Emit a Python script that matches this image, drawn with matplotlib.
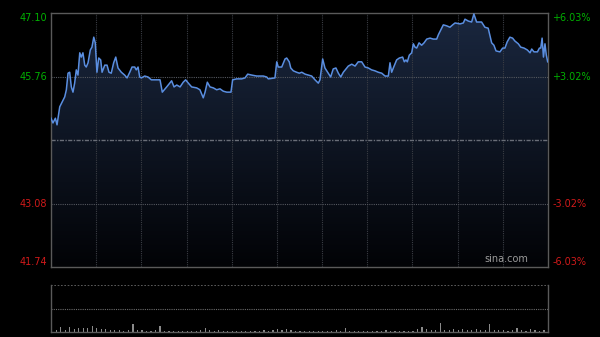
import numpy as np
import matplotlib.pyplot as plt
from matplotlib.colors import LinearSegmentedColormap

# intraday price (minutes since open, HK session 330 min)
minutes = [0, 1.3, 2.9, 4.0, 5.8, 9.1, 10.2, 11.3, 12.4, 13.5, 14.6, 15.7, 16.8, 17.9,
           19.1, 20.1, 21.2, 22.4, 23.4, 24.6, 26.1, 27.2, 28.4, 29.4, 30.5, 31.7, 33.0,
           33.9, 35.7, 37.2, 38.5, 40.0, 41.6, 43.0, 44.5, 46.7, 48.9, 50.5, 52.3, 53.8,
           55.6, 56.6, 57.8, 58.9, 60.0, 62.2, 64.4, 66.6, 72.4, 73.9, 76.8, 80.1, 81.7,
           83.5, 85.7, 87.8, 89.4, 91.2, 93.4, 96.7, 98.9, 101.1, 102.3, 103.8, 105.6,
           107.8, 110.0, 112.2, 114.4, 116.7, 119.5, 120.6, 123.3, 126.6, 128.8, 130.6,
           133.3, 136.6, 141.0, 143.2, 144.3, 148.7, 149.9, 150.9, 153.2, 155.4, 156.5,
           158.2, 159.2, 160.9, 163.1, 164.9, 166.5, 168.7, 170.9, 173.1, 175.3, 177.5,
           178.6, 180.4, 181.9, 184.1, 185.7, 187.4, 189.2, 190.8, 192.4, 194.1, 197.4,
           199.7, 201.9, 204.0, 206.3, 208.5, 210.7, 212.9, 215.1, 217.3, 219.6, 221.8,
           224.0, 225.1, 226.2, 227.3, 229.5, 231.3, 233.5, 234.6, 235.7, 236.6, 237.9,
           239.5, 240.6, 241.7, 242.8, 244.4, 246.1, 247.7, 249.5, 251.7, 253.8, 256.1,
           257.2, 258.8, 260.5, 262.7, 264.9, 266.7, 268.3, 271.6, 273.8, 274.9, 277.1,
           279.3, 280.8, 282.6, 285.9, 288.1, 290.3, 292.6, 294.1, 295.5, 298.1, 299.9,
           301.4, 302.9, 304.7, 306.5, 308.0, 310.3, 311.9, 314.1, 316.3, 318.1, 319.2,
           320.7, 323.0, 324.3, 325.2, 326.1, 327.0, 328.0, 328.9, 329.8]
prices = [44.88, 44.78, 44.88, 44.74, 45.12, 45.33, 45.48, 45.83, 45.85, 45.54, 45.43,
          45.62, 45.90, 45.79, 46.26, 46.17, 46.26, 46.00, 45.96, 46.05, 46.32, 46.38,
          46.59, 46.47, 45.85, 46.15, 46.11, 45.85, 46.00, 46.00, 45.85, 45.83, 46.05,
          46.17, 45.94, 45.85, 45.79, 45.73, 45.85, 45.96, 45.96, 45.90, 45.96, 45.75,
          45.73, 45.77, 45.75, 45.69, 45.69, 45.43, 45.54, 45.67, 45.54, 45.58, 45.54,
          45.64, 45.69, 45.62, 45.54, 45.52, 45.48, 45.31, 45.43, 45.64, 45.54, 45.52,
          45.48, 45.50, 45.45, 45.43, 45.43, 45.69, 45.71, 45.71, 45.73, 45.81, 45.79,
          45.77, 45.77, 45.75, 45.71, 45.73, 46.07, 45.96, 45.96, 46.13, 46.15, 46.07,
          45.94, 45.88, 45.85, 45.83, 45.85, 45.81, 45.79, 45.77, 45.69, 45.62, 45.69,
          46.13, 45.94, 45.83, 45.75, 45.92, 45.94, 45.83, 45.75, 45.85, 45.98, 46.02,
          45.98, 46.07, 46.07, 45.96, 45.94, 45.90, 45.88, 45.85, 45.83, 45.77, 45.77,
          46.05, 45.85, 45.94, 46.11, 46.15, 46.17, 46.07, 46.11, 46.07, 46.21, 46.26,
          46.45, 46.38, 46.36, 46.47, 46.42, 46.47, 46.55, 46.57, 46.55, 46.55, 46.64,
          46.74, 46.85, 46.83, 46.80, 46.85, 46.89, 46.87, 46.89, 46.97, 46.93, 46.91,
          47.08, 46.91, 46.91, 46.80, 46.78, 46.47, 46.42, 46.30, 46.28, 46.36, 46.36,
          46.49, 46.59, 46.57, 46.51, 46.45, 46.38, 46.36, 46.32, 46.26, 46.34, 46.28,
          46.28, 46.36, 46.36, 46.57, 46.17, 46.45, 46.21, 46.07]

# volume, one bar per 3 minutes
volume = [4, 4, 11, 4, 11, 6, 8, 8, 8, 13, 8, 6, 6, 4, 4, 4, 2, 4, 17, 4,
          4, 2, 2, 4, 13, 2, 2, 2, 2, 2, 2, 2, 2, 4, 8, 4, 2, 4, 2, 2,
          2, 2, 2, 2, 2, 2, 2, 4, 2, 4, 6, 4, 6, 4, 2, 2, 2, 2, 2, 2,
          2, 2, 2, 4, 2, 8, 2, 2, 2, 2, 2, 2, 2, 2, 4, 2, 2, 2, 2, 2,
          2, 6, 11, 6, 4, 4, 19, 4, 4, 6, 4, 6, 4, 4, 6, 4, 4, 17, 4, 4,
          4, 2, 4, 8, 4, 2, 6, 4, 2, 4]

prev_close = 44.42
price_ticks = [41.74, 43.08, 45.76, 47.10]
price_labels = ['41.74', '43.08', '45.76', '47.10']
pct_labels = ['-6.03%', '-3.02%', '+3.02%', '+6.03%']

green = '#00b000'
red = '#d01a1a'
grid_c = '#3a3d44'

fig = plt.figure(figsize=(6, 3.37), dpi=100, facecolor='black')
ax = fig.add_axes([0.085, 0.2077, 0.8283, 0.7537], facecolor='black')
axv = fig.add_axes([0.085, 0.0148, 0.8283, 0.1395], facecolor='black')

x = np.array(minutes)
y = np.array(prices)

# gradient area under the price line
cmap = LinearSegmentedColormap.from_list('fill', ['#020306', '#1a273f'])
grad = np.linspace(0, 1, 256).reshape(-1, 1)
poly = ax.fill_between(x, y, 41.74, color='none')
img = ax.imshow(grad, cmap=cmap, aspect='auto', origin='lower',
                extent=[0, 330, 41.74, 47.10], zorder=1)
img.set_clip_path(poly.get_paths()[0], transform=ax.transData)
ax.plot(x, y, color='#5a8ee0', lw=1.1, zorder=3)

ax.set_xlim(0, 330)
ax.set_ylim(41.74, 47.10)
ax.set_xticks([])
ax.set_yticks([])

# grid
for m in range(30, 330, 30):
    ax.axvline(m, color=grid_c, lw=0.8, ls=(0, (1, 1)), zorder=2)
for p in [43.08, 45.76]:
    ax.axhline(p, color='#55585f', lw=0.8, ls=(0, (1, 1)), zorder=2)
ax.axhline(prev_close, color='#6a6e78', lw=1.0, ls=(0, (3, 1, 1, 1)), zorder=2)

# price / percent labels, top and bottom ones kept inside the frame
for p, lab, pct in zip(price_ticks, price_labels, pct_labels):
    c = green if p > prev_close else red
    va = 'top' if p == 47.10 else ('bottom' if p == 41.74 else 'center')
    ax.annotate(lab, (0, p), xycoords=('axes fraction', 'data'),
                xytext=(-3, 0), textcoords='offset points',
                ha='right', va=va, color=c, fontsize=7)
    ax.annotate(pct, (1, p), xycoords=('axes fraction', 'data'),
                xytext=(3, 0), textcoords='offset points',
                ha='left', va=va, color=c, fontsize=7)

for s in ax.spines.values():
    s.set_color('#5a5a5a')
    s.set_linewidth(1)

ax.text(0.96, 0.012, 'sina.com', transform=ax.transAxes, color='#9a9a9a',
        fontsize=7, ha='right', va='bottom', zorder=4)

# volume panel
vx = np.arange(len(volume)) * 3
axv.bar(vx, volume, width=0.8, color='#8a8a8a', align='edge')
axv.set_xlim(0, 330)
axv.set_ylim(0, 100)
axv.set_xticks([])
axv.set_yticks([])
axv.axhline(50, color='#6a6a6a', lw=0.8, ls=(0, (1, 1)))
axv.axhline(100, color='#6a6a6a', lw=1.2, ls=(0, (1, 1)))
axv.spines['top'].set_visible(False)
for k in ('left', 'right', 'bottom'):
    axv.spines[k].set_color('#5a5a5a')
    axv.spines[k].set_linewidth(1)

fig.savefig('out.png', dpi=100, facecolor='black')
